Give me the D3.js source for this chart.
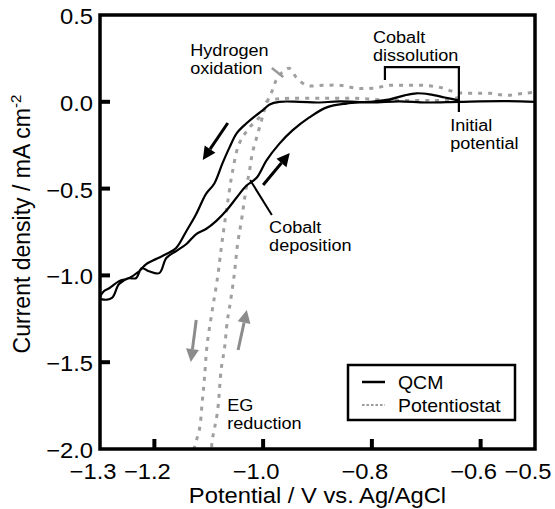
<!DOCTYPE html>
<html>
<head>
<meta charset="utf-8">
<script src="https://cdn.jsdelivr.net/npm/d3@7"></script>
<style>
  body { margin: 0; background: #fff; }
  text { font-family: "Liberation Sans", Arial, sans-serif; fill: #000; }
</style>
</head>
<body>
<div id="chart-container"></div>
<script>
// QCM trace: cathodic scan (from -0.5 V) then anodic return to the initial potential
const qcm_v = [-0.50, -0.56, -0.64, -0.70, -0.75, -0.80, -0.86, -0.90, -0.933, -0.97, -0.988, -1.001, -1.016, -1.031,
  -1.049, -1.062, -1.075, -1.090, -1.105, -1.123, -1.141, -1.160, -1.178, -1.197, -1.215, -1.228, -1.247, -1.265,
  -1.283, -1.293, -1.30,
  -1.296, -1.278, -1.265, -1.247, -1.234, -1.223, -1.210, -1.191, -1.178, -1.160, -1.141, -1.123, -1.105, -1.086,
  -1.068, -1.049, -1.031, -1.012, -0.994, -0.970, -0.946, -0.915, -0.883, -0.847, -0.804, -0.767, -0.740, -0.718,
  -0.694, -0.666, -0.640];
const qcm_j = [0.0, 0.004, 0.0, -0.004, 0.003, -0.003, 0.002, -0.004, 0.0, 0.0, -0.015, -0.05, -0.085, -0.125,
  -0.183, -0.264, -0.356, -0.472, -0.53, -0.646, -0.744, -0.842, -0.877, -0.906, -0.935, -0.976, -1.016, -1.033,
  -1.074, -1.091, -1.13,
  -1.138, -1.13, -1.05, -1.016, -1.016, -0.958, -0.976, -0.987, -0.90, -0.86, -0.819, -0.762, -0.733, -0.686,
  -0.628, -0.553, -0.484, -0.438, -0.339, -0.241, -0.165, -0.09, -0.032, -0.01, 0.0, 0.014, 0.037, 0.049,
  0.043, 0.025, 0.008];

// Potentiostat trace
const pot_v = [-0.64, -0.675, -0.706, -0.767, -0.828, -0.891, -0.952, -0.979, -0.994, -1.001, -1.025, -1.044, -1.057,
  -1.062, -1.071, -1.077, -1.084, -1.094, -1.103, -1.108, -1.112, -1.117, -1.127, -1.132,
  -1.099, -1.094, -1.084, -1.077, -1.071, -1.066, -1.062, -1.053, -1.047, -1.040, -1.031, -1.025, -1.020, -1.012,
  -1.003, -0.994, -0.983, -0.976, -0.965, -0.952, -0.939, -0.920, -0.891, -0.859, -0.828, -0.799, -0.767, -0.736,
  -0.706, -0.675, -0.644, -0.614, -0.583, -0.552, -0.522, -0.50];
const pot_j = [0.025, 0.008, 0.008, 0.008, 0.02, 0.02, 0.02, 0.014, 0.0, -0.067, -0.148, -0.241, -0.414,
  -0.512, -0.704, -0.843, -1.016, -1.21, -1.40, -1.595, -1.728, -1.884, -2.0, -2.13,
  -2.13, -1.96, -1.786, -1.537, -1.42, -1.265, -1.19, -0.993, -0.82, -0.686, -0.495, -0.397, -0.299, -0.206,
  -0.108, -0.01, 0.066, 0.124, 0.17, 0.193, 0.141, 0.095, 0.095, 0.095, 0.078, 0.078, 0.095, 0.095,
  0.095, 0.083, 0.054, 0.049, 0.049, 0.037, 0.049, 0.054];

const x_ticks = [-1.2, -1.0, -0.8, -0.6];
const x_labels = [-1.3, -1.2, -1.0, -0.8, -0.6, -0.5];
const y_ticks = [0.0, -0.5, -1.0, -1.5];
const y_labels = [0.5, 0.0, -0.5, -1.0, -1.5, -2.0];

const x_title = "Potential / V vs. Ag/AgCl";
const y_title = "Current density / mA cm";
const legend_names = ["QCM", "Potentiostat"];

// annotations: [v, j (first baseline), lines]
const notes = [
  [-1.134, 0.258, ["Hydrogen", "oxidation"]],
  [-0.798, 0.333, ["Cobalt", "dissolution"]],
  [-0.656, -0.174, ["Initial", "potential"]],
  [-0.989, -0.762, ["Cobalt", "deposition"]],
  [-1.066, -1.787, ["EG", "reduction"]],
];

// arrows: [v_from, j_from, v_to, j_to]
const black_arrows = [[-1.065, -0.122, -1.111, -0.335], [-1.0, -0.479, -0.951, -0.295]];
const gray_arrows = [[-1.123, -1.257, -1.133, -1.499], [-1.046, -1.43, -1.030, -1.199]];

const width = 555, height = 509;
const margin = { left: 100, right: 20, top: 15, bottom: 60 };
const stretch = 1.08;

const svg = d3.select("#chart-container").append("svg")
  .attr("width", width).attr("height", height);

const xScale = d3.scaleLinear().domain([-1.3, -0.5]).range([margin.left, width - margin.right]);
const yScale = d3.scaleLinear().domain([-2.0, 0.5]).range([height - margin.bottom, margin.top]);

const fmt = (d) => (d < 0 ? "\u2212" : "") + Math.abs(d).toFixed(1);

const put_text = (x, y, str, size, anchor, sx) => svg.append("text")
  .attr("transform", `translate(${x},${y}) scale(${sx || stretch},1)`)
  .attr("text-anchor", anchor || "start")
  .style("font-size", size + "px")
  .text(str);

svg.append("defs").append("clipPath").attr("id", "plot-clip")
  .append("rect")
  .attr("x", xScale(-1.3)).attr("y", yScale(0.5))
  .attr("width", xScale(-0.5) - xScale(-1.3))
  .attr("height", yScale(-2.0) - yScale(0.5));

const line = d3.line()
  .curve(d3.curveCatmullRom.alpha(0.5))
  .x((d) => xScale(d[0]))
  .y((d) => yScale(d[1]));

const plot = svg.append("g").attr("clip-path", "url(#plot-clip)");

plot.append("path")
  .datum(d3.zip(pot_v, pot_j))
  .attr("d", line)
  .attr("fill", "none")
  .attr("stroke", "#a0a0a0")
  .attr("stroke-width", 3)
  .attr("stroke-dasharray", "4,6");

plot.append("path")
  .datum(d3.zip(qcm_v, qcm_j))
  .attr("d", line)
  .attr("fill", "none")
  .attr("stroke", "#000")
  .attr("stroke-width", 2.2)
  .attr("stroke-linejoin", "round");

// arrows
const draw_arrow = (a, color) => {
  let x1 = xScale(a[0]), y1 = yScale(a[1]), x2 = xScale(a[2]), y2 = yScale(a[3]);
  let ang = Math.atan2(y2 - y1, x2 - x1);
  let head = 13, half = 6.5;
  let bx = x2 - head * Math.cos(ang), by = y2 - head * Math.sin(ang);
  svg.append("line")
    .attr("x1", x1).attr("y1", y1).attr("x2", bx).attr("y2", by)
    .attr("stroke", color).attr("stroke-width", 3);
  let pts = [
    [x2, y2],
    [bx + half * Math.sin(ang), by - half * Math.cos(ang)],
    [bx - half * Math.sin(ang), by + half * Math.cos(ang)],
  ];
  svg.append("polygon").attr("points", pts.map((p) => p.join(",")).join(" ")).attr("fill", color);
};
black_arrows.forEach((a) => draw_arrow(a, "#000"));
gray_arrows.forEach((a) => draw_arrow(a, "#8c8c8c"));

// leader lines and bracket
svg.append("line")
  .attr("x1", xScale(-0.984)).attr("y1", yScale(0.195))
  .attr("x2", xScale(-0.963)).attr("y2", yScale(0.143))
  .attr("stroke", "#999").attr("stroke-width", 2.5);
svg.append("line")
  .attr("x1", xScale(-1.024)).attr("y1", yScale(-0.45))
  .attr("x2", xScale(-0.984)).attr("y2", yScale(-0.652))
  .attr("stroke", "#000").attr("stroke-width", 2);
svg.append("path")
  .attr("d", `M${xScale(-0.776)},${yScale(0.126)} V${yScale(0.20)} H${xScale(-0.640)} V${yScale(-0.059)}`)
  .attr("fill", "none").attr("stroke", "#000").attr("stroke-width", 2.2);

// annotations: two lines each, spaced so the line boxes do not overlap
notes.forEach((n) => {
  n[2].forEach((s, i) => {
    put_text(xScale(n[0]), yScale(n[1]) - 1 + i * 18, s, 16, "start", 1.13);
  });
});

// frame + ticks
svg.append("rect")
  .attr("x", xScale(-1.3)).attr("y", yScale(0.5))
  .attr("width", xScale(-0.5) - xScale(-1.3))
  .attr("height", yScale(-2.0) - yScale(0.5))
  .attr("fill", "none").attr("stroke", "#000").attr("stroke-width", 3.5);

svg.selectAll(".x-tick").data(x_ticks).enter().append("line")
  .attr("class", "x-tick")
  .attr("x1", (d) => xScale(d)).attr("x2", (d) => xScale(d))
  .attr("y1", yScale(-2.0)).attr("y2", yScale(-2.0) - 10)
  .attr("stroke", "#000").attr("stroke-width", 4);
svg.selectAll(".y-tick").data(y_ticks).enter().append("line")
  .attr("class", "y-tick")
  .attr("x1", xScale(-1.3)).attr("x2", xScale(-1.3) + 10)
  .attr("y1", (d) => yScale(d)).attr("y2", (d) => yScale(d))
  .attr("stroke", "#000").attr("stroke-width", 4);

x_labels.forEach((d) => put_text(xScale(d) - 7, 479, fmt(d), 22, "middle"));
y_labels.forEach((d) => put_text(93, yScale(d) + 9, fmt(d), 22, "end"));

put_text((xScale(-1.3) + xScale(-0.5)) / 2, 503, x_title, 22, "middle");

let ylab = svg.append("text")
  .attr("transform", `translate(30,${(yScale(0.5) + yScale(-2.0)) / 2 - 8}) rotate(-90)`)
  .attr("text-anchor", "middle")
  .style("font-size", "23px");
ylab.append("tspan").text(y_title);
ylab.append("tspan").attr("dy", -9).style("font-size", "15px").text("-2");

// legend
let lg = svg.append("g");
lg.append("rect")
  .attr("x", 348).attr("y", 365).attr("width", 167).attr("height", 55)
  .attr("fill", "#fff").attr("stroke", "#000").attr("stroke-width", 2.5);
lg.append("line").attr("x1", 362).attr("x2", 385).attr("y1", 382).attr("y2", 382)
  .attr("stroke", "#000").attr("stroke-width", 2.5);
lg.append("line").attr("x1", 362).attr("x2", 385).attr("y1", 405).attr("y2", 405)
  .attr("stroke", "#9a9a9a").attr("stroke-width", 2).attr("stroke-dasharray", "2.5,2");
put_text(398, 389, legend_names[0], 18);
put_text(398, 412, legend_names[1], 18);
</script>
</body>
</html>
